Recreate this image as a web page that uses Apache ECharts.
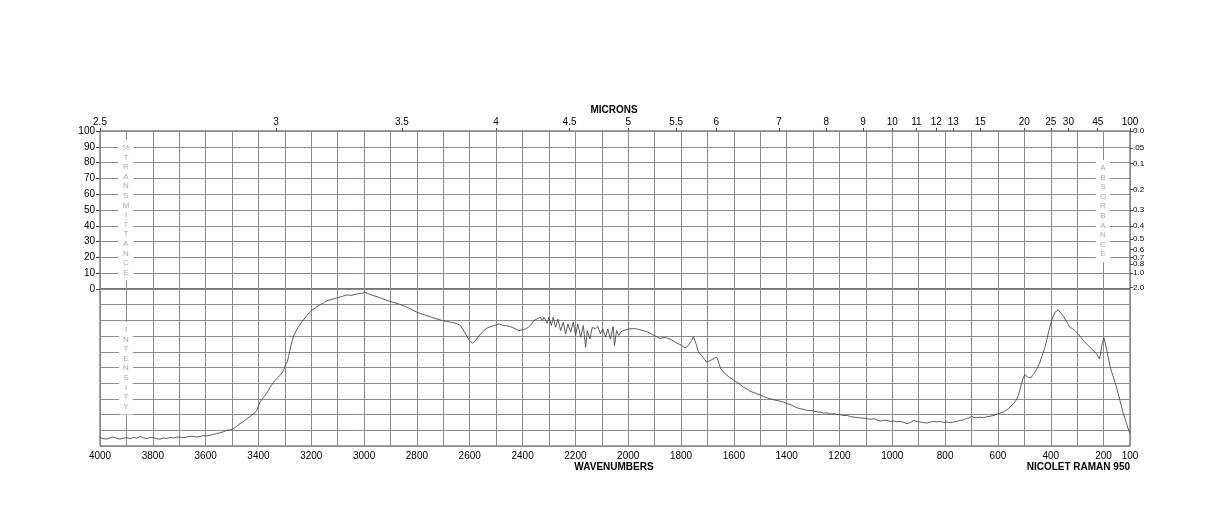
<!DOCTYPE html>
<html>
<head>
<meta charset="utf-8">
<script src="https://cdn.jsdelivr.net/npm/echarts@6/dist/echarts.min.js"></script>
<style>
  html, body { margin: 0; padding: 0; background: #fff; }
  #chart { width: 1224px; height: 528px; }
</style>
</head>
<body>
<div id="chart"></div>
<script>
// Raman spectrum, wavenumber (cm-1) vs intensity (0-100 of panel height)
const wavenumbers = [
  4000, 3985, 3975, 3962, 3949, 3936, 3924, 3911, 3899, 3886, 3874, 3861, 3848, 3836, 3823, 3810,
  3798, 3785, 3773, 3760, 3747, 3735, 3722, 3710, 3697, 3685, 3672, 3659, 3646, 3634, 3621, 3608,
  3596, 3583, 3571, 3558, 3545, 3533, 3520, 3508, 3495, 3483, 3470, 3457, 3444, 3432, 3419, 3407,
  3400, 3394, 3381, 3369, 3356, 3343, 3331, 3318, 3305, 3298, 3290, 3286, 3277, 3268, 3260, 3250,
  3236, 3217, 3198, 3180, 3167, 3150, 3141, 3120, 3104, 3085, 3066, 3048, 3028, 3010, 2997, 2985,
  2965, 2945, 2927, 2908, 2889, 2870, 2851, 2830, 2815, 2800, 2780, 2762, 2745, 2724, 2710, 2690,
  2672, 2660, 2647, 2635, 2628, 2616, 2603, 2590, 2578, 2568, 2559, 2546, 2534, 2520, 2508, 2498,
  2489, 2476, 2464, 2450, 2439, 2426, 2414, 2402, 2389, 2379, 2370, 2357, 2345, 2332, 2325, 2319,
  2307, 2300, 2291, 2284, 2275, 2266, 2256, 2246, 2237, 2228, 2218, 2208, 2199, 2191, 2180, 2170,
  2161, 2155, 2145, 2136, 2124, 2115, 2105, 2096, 2086, 2077, 2067, 2057, 2052, 2044, 2036, 2029,
  2020, 2012, 2000, 1993, 1980, 1968, 1955, 1943, 1930, 1917, 1905, 1892, 1880, 1873, 1860, 1850,
  1842, 1830, 1816, 1806, 1797, 1785, 1772, 1760, 1753, 1743, 1734, 1722, 1712, 1703, 1690, 1678,
  1665, 1659, 1650, 1640, 1633, 1620, 1614, 1600, 1589, 1576, 1564, 1550, 1539, 1525, 1513, 1500,
  1488, 1475, 1463, 1450, 1437, 1423, 1412, 1398, 1387, 1372, 1360, 1347, 1335, 1322, 1310, 1297,
  1285, 1272, 1260, 1246, 1234, 1221, 1210, 1196, 1183, 1171, 1158, 1146, 1133, 1120, 1108, 1095,
  1083, 1070, 1058, 1045, 1032, 1020, 1008, 994, 982, 969, 956, 944, 932, 919, 906, 894,
  881, 869, 856, 843, 830, 818, 805, 793, 780, 768, 756, 743, 730, 720, 710, 700,
  690, 680, 668, 655, 643, 631, 615, 599, 580, 561, 542, 530, 523, 517, 511, 505,
  498, 492, 485, 479, 473, 466, 460, 450, 441, 432, 422, 416, 410, 403, 397, 390,
  384, 378, 372, 366, 359, 352, 346, 337, 328, 318, 309, 302, 296, 286, 277, 268,
  258, 248, 239, 232, 227, 221, 216, 212, 208, 204, 199, 194, 189, 183, 176, 170,
  163, 157, 151, 145, 138, 132, 125, 119, 113, 107, 100
];
const intensity = [
  5.3, 4.6, 4.4, 5.2, 5.7, 4.8, 4.4, 5.0, 5.3, 4.6, 5.5, 5.0, 6.1, 5.2, 4.7, 5.4,
  5.3, 4.6, 4.4, 5.1, 4.9, 5.4, 5.1, 5.6, 5.7, 5.3, 5.7, 6.2, 6.1, 5.7, 6.1, 6.6,
  6.4, 6.9, 7.4, 7.8, 8.5, 9.0, 10.0, 10.3, 11.0, 12.5, 14.2, 15.6, 17.4, 18.8, 20.5, 22.5,
  23.0, 28.0, 31.0, 33.5, 37.5, 40.5, 43.0, 45.0, 48.0, 51.5, 54.0, 57.0, 64.0, 69.5, 72.5, 75.5,
  79.0, 83.0, 86.5, 88.5, 90.0, 91.5, 92.6, 93.5, 94.3, 95.2, 96.2, 96.0, 96.8, 97.2, 97.9, 97.0,
  95.8, 94.8, 93.6, 92.4, 91.5, 90.5, 89.4, 87.8, 86.5, 85.2, 84.0, 83.0, 82.0, 80.9, 80.2, 79.4,
  78.8, 78.5, 77.8, 76.8, 75.6, 71.4, 67.6, 65.5, 67.2, 69.5, 71.4, 73.5, 75.2, 76.0, 76.7, 77.3,
  77.8, 77.0, 76.7, 76.2, 75.6, 74.5, 73.5, 74.0, 74.6, 75.5, 76.7, 79.9, 81.0, 82.0, 79.9, 82.0,
  78.2, 82.0, 76.7, 82.0, 75.6, 80.9, 73.5, 78.8, 71.4, 77.8, 72.5, 78.8, 70.3, 77.8, 69.3, 76.7,
  62.9, 73.5, 68.2, 75.6, 74.6, 76.1, 71.4, 74.6, 69.3, 74.6, 68.2, 76.1, 64.0, 73.5, 70.3, 72.5,
  73.5, 73.8, 74.5, 75.0, 74.8, 74.6, 74.0, 73.5, 72.8, 71.8, 70.8, 69.7, 68.5, 67.6, 69.3, 68.5,
  68.2, 67.0, 65.5, 64.8, 64.0, 62.5, 64.0, 67.2, 69.7, 65.0, 59.7, 57.6, 55.5, 53.4, 54.4, 55.5,
  56.6, 54.0, 49.2, 47.3, 46.0, 44.2, 43.2, 41.8, 40.7, 39.2, 37.5, 36.3, 35.0, 34.0, 33.3, 32.4,
  31.6, 30.8, 30.1, 29.5, 29.0, 28.5, 28.0, 26.9, 26.5, 25.2, 24.3, 23.7, 23.3, 22.7, 22.6, 22.2,
  21.8, 21.6, 21.0, 21.0, 20.4, 20.6, 20.1, 19.9, 19.4, 19.5, 18.7, 18.4, 18.2, 17.8, 17.8, 17.4,
  17.0, 17.4, 16.5, 15.9, 16.4, 16.3, 15.6, 15.9, 15.4, 15.7, 15.0, 14.2, 15.0, 16.3, 15.6, 15.3,
  14.9, 14.6, 15.2, 15.7, 15.4, 15.6, 15.0, 15.3, 14.8, 15.3, 15.6, 16.3, 16.6, 17.5, 17.8, 18.9,
  18.2, 18.0, 18.4, 18.0, 18.6, 18.9, 19.5, 20.6, 21.6, 23.7, 26.9, 29.5, 32.2, 35.5, 39.6, 43.0,
  45.6, 44.5, 43.4, 43.6, 43.9, 45.5, 47.0, 50.0, 53.4, 58.0, 62.9, 67.0, 71.4, 76.0, 79.9, 82.8,
  85.2, 86.3, 86.7, 85.8, 84.1, 82.7, 80.9, 78.5, 75.6, 74.8, 73.5, 72.6, 71.4, 69.2, 67.2, 65.7,
  64.0, 62.3, 60.8, 59.8, 58.7, 57.0, 55.5, 58.0, 62.9, 66.0, 68.9, 66.0, 61.9, 57.0, 51.3, 47.5,
  43.9, 40.5, 37.5, 33.5, 29.0, 25.0, 20.6, 17.5, 14.2, 11.0, 7.8
];

// tick labels
const micronLabels = ['2.5', '3', '3.5', '4', '4.5', '5', '5.5', '6', '7', '8', '9', '10', '11', '12', '13', '15', '20', '25', '30', '45', '100'];
const absorbanceLabels = ['0.0', '.05', '0.1', '0.2', '0.3', '0.4', '0.5', '0.6', '0.7', '0.8', '1.0', '2.0'];

const micronPos = micronLabels.map(m => 10000 / parseFloat(m));
const absorbancePos = absorbanceLabels.map(a => 100 * Math.pow(10, -parseFloat(a)));

const FONT = '"Liberation Sans", Arial, Helvetica, sans-serif';
const GRID_COLOR = '#8c8c8c';
const BORDER = '#444';

const vert = s => s.split('').join('\n');
const sideText = (x, y, s) => ({
  type: 'text', x: x, y: y, z: 50,
  style: {
    text: vert(s), fill: '#a8a8a8', font: '8px ' + FONT, lineHeight: 9.6,
    align: 'center', verticalAlign: 'top', backgroundColor: '#fff', padding: [3, 4]
  }
});

const chart = echarts.init(document.getElementById('chart'));

chart.setOption({
  animation: false,
  backgroundColor: '#fff',
  textStyle: { fontFamily: FONT },
  grid: [
    { left: 100, top: 131, width: 1030, height: 158, show: true, borderColor: BORDER, borderWidth: 1 },
    { left: 100, top: 289, width: 1030, height: 157, show: true, borderColor: BORDER, borderWidth: 1 }
  ],
  xAxis: [
    {
      // microns, top of upper panel
      gridIndex: 0, type: 'value', position: 'top', inverse: true, min: 100, max: 4000,
      axisLine: { show: false, onZero: false },
      axisTick: { show: true, customValues: micronPos, length: 3, lineStyle: { color: BORDER } },
      axisLabel: {
        customValues: micronPos, color: '#000', fontSize: 10, margin: 4,
        formatter: v => String(Math.round(10000 / v * 10) / 10)
      },
      splitLine: { show: false }
    },
    {
      // grid lines of upper panel
      gridIndex: 0, type: 'value', position: 'bottom', inverse: true, min: 100, max: 4000, interval: 100,
      axisLine: { show: false, onZero: false }, axisTick: { show: false }, axisLabel: { show: false },
      splitLine: { show: true, lineStyle: { color: GRID_COLOR, width: 1 } }
    },
    {
      // wavenumbers, lower panel
      gridIndex: 1, type: 'value', position: 'bottom', inverse: true, min: 100, max: 4000, interval: 100,
      axisLine: { show: false, onZero: false }, axisTick: { show: false },
      axisLabel: {
        interval: 0, color: '#000', fontSize: 10, margin: 5, showMinLabel: true, showMaxLabel: true,
        formatter: v => (v % 200 === 0 || v === 100) ? String(v) : ''
      },
      splitLine: { show: true, lineStyle: { color: GRID_COLOR, width: 1 } }
    }
  ],
  yAxis: [
    {
      gridIndex: 0, type: 'value', min: 0, max: 100, interval: 10, position: 'left',
      axisLine: { show: false, onZero: false },
      axisTick: { show: true, length: 4, lineStyle: { color: BORDER } },
      axisLabel: { color: '#000', fontSize: 10, margin: 5 },
      splitLine: { show: true, lineStyle: { color: GRID_COLOR, width: 1 } }
    },
    {
      gridIndex: 0, type: 'value', min: 0, max: 100, position: 'right',
      axisLine: { show: false, onZero: false },
      axisTick: { show: true, customValues: absorbancePos, length: 3, lineStyle: { color: BORDER } },
      axisLabel: {
        customValues: absorbancePos, color: '#000', fontSize: 8, margin: 3,
        formatter: v => {
          let best = 0;
          absorbancePos.forEach((p, i) => { if (Math.abs(p - v) < Math.abs(absorbancePos[best] - v)) best = i; });
          return absorbanceLabels[best];
        }
      },
      splitLine: { show: false }
    },
    {
      gridIndex: 1, type: 'value', min: 0, max: 100, interval: 10,
      axisLine: { show: false, onZero: false }, axisTick: { show: false }, axisLabel: { show: false },
      splitLine: { show: true, lineStyle: { color: GRID_COLOR, width: 1 } }
    }
  ],
  graphic: [
    { type: 'text', x: 614, y: 110, style: { text: 'MICRONS', font: 'bold 10px ' + FONT, fill: '#000', align: 'center', verticalAlign: 'middle' } },
    { type: 'text', x: 614, y: 467, style: { text: 'WAVENUMBERS', font: 'bold 10px ' + FONT, fill: '#000', align: 'center', verticalAlign: 'middle' } },
    { type: 'text', x: 1130, y: 467, style: { text: 'NICOLET RAMAN 950', font: 'bold 10px ' + FONT, fill: '#000', align: 'right', verticalAlign: 'middle' } },
    sideText(126, 140, '%TRANSMITTANCE'),
    sideText(1103, 160, 'ABSORBANCE'),
    sideText(126, 322, 'INTENSITY')
  ],
  series: [
    {
      type: 'line',
      xAxisIndex: 2,
      yAxisIndex: 2,
      data: wavenumbers.map((w, i) => [w, intensity[i]]),
      showSymbol: false,
      smooth: false,
      lineStyle: { color: '#4a4a4a', width: 0.9 },
      z: 5
    }
  ]
});
</script>
</body>
</html>
